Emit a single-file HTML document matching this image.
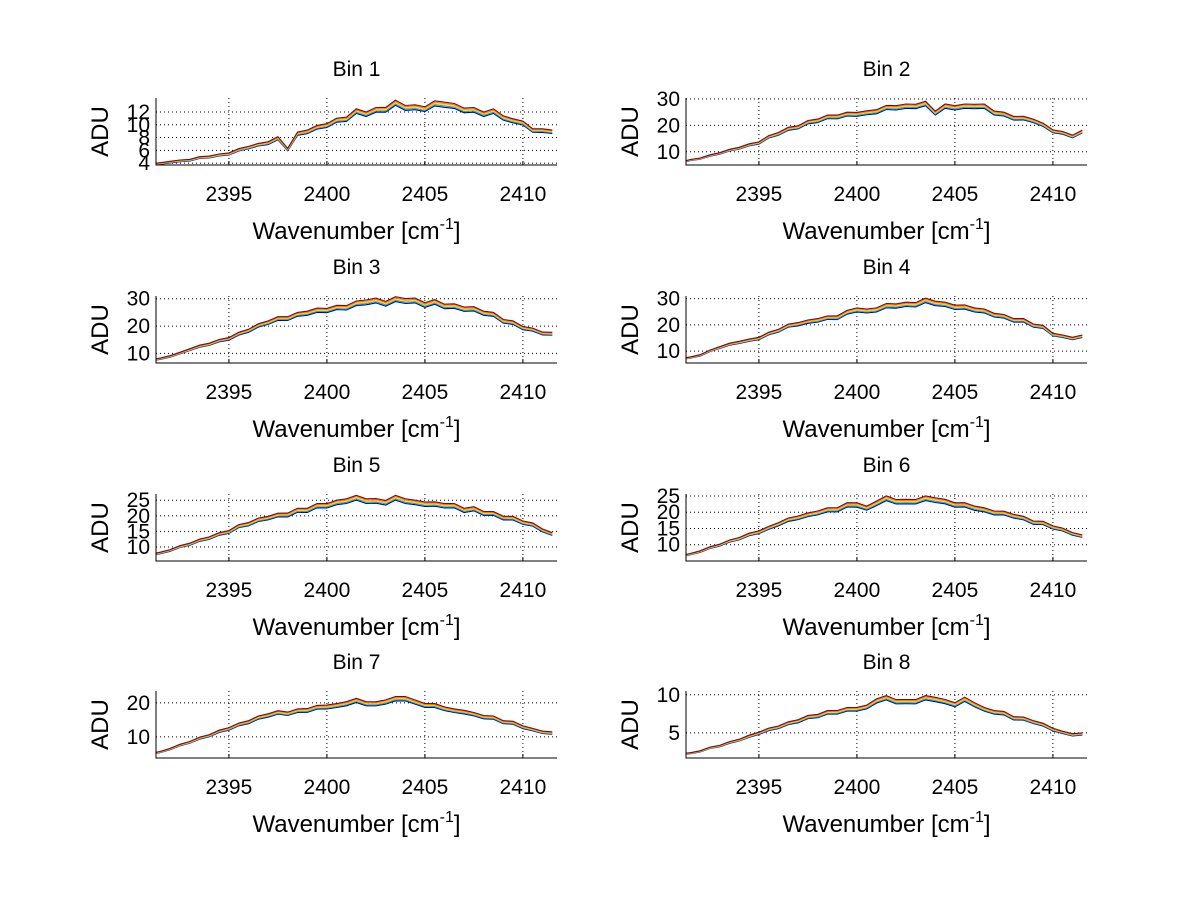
<!DOCTYPE html>
<html><head><meta charset="utf-8"><style>
html,body{margin:0;padding:0;background:#fff;}
svg{display:block;font-family:"Liberation Sans",Arial,sans-serif;}
</style></head><body>
<svg id="fig" width="1200" height="901" viewBox="0 0 1200 901" xmlns="http://www.w3.org/2000/svg"></svg>
<script>
const xTicks = [2395, 2400, 2405, 2410];
const xStart = 2391.0, xStep = 0.5;
const seriesColors = ["#0000a0", "#00b0ff", "#f0e000", "#ff8000", "#900000"];
const seriesOffsets = [-0.03, -0.015, 0, 0.015, 0.03];
const binTitles = ["Bin 1","Bin 2","Bin 3","Bin 4","Bin 5","Bin 6","Bin 7","Bin 8"];
const yDomains = [[3.7,14.2],[5,30.4],[6.5,31],[5.5,31],[5.5,27],[5,25.6],[3.8,23.5],[1.7,10.5]];
const yTicks = [[4,6,8,10,12],[10,20,30],[10,20,30],[10,20,30],[10,15,20,25],[10,15,20,25],[10,20],[5,10]];
const bin1 = [3.8,3.9,4.2,4.3,4.5,4.8,5.0,5.2,5.5,6.0,6.5,6.8,7.2,7.8,6.2,8.5,9.0,9.5,10.0,10.6,11.0,12.0,11.8,12.2,12.5,13.3,12.8,12.6,12.6,13.2,13.3,12.8,12.4,12.2,11.8,12.0,11.2,10.5,10.4,9.0,9.2,8.8];
const bin2 = [6,6.8,7.5,8.5,9.5,10.5,11.5,12.5,13.5,15.5,17,18.5,19.5,21,22,23,23.5,24,24.5,24.5,25.5,26.5,27,27,27.5,28,25,27,27,27,27.5,27,25,24,23,22.5,22,20,18,17,16,17.5];
const bin3 = [7.5,8,9,10,11.5,12.5,13.5,14.5,15.5,17,18.5,20,21.5,22.5,23,24,25,25.5,26,26.5,27,28,29,29,28.5,29.5,29.5,29,28,28.5,27.5,27,26.5,26,25,24,22,21,19.5,18.5,17.5,17];
const bin4 = [7,7.5,8.5,10,11.5,12.5,13.5,14,15,16.5,18,19.5,20.5,21,22,22.5,23,24.5,26,25,26,27,27.5,27.5,28,29,28.5,27.5,27,26.5,26,25,24,23,22,21.5,20,19,16.5,15.5,15,15.5];
const bin5 = [7.5,8,9,10,11,12,13,14,15,16.5,17.5,18.5,19.5,20,20.5,21.5,22,23,23.5,24,25,25.5,25,24.5,24.5,25.5,25,24,24,23.5,23.5,23,22,22,21,20.5,19.5,19,18,17,15.5,14];
const bin6 = [6.5,7,8,9,10,11,12,13,14,15,16.5,17.5,18.5,19,20,20.5,21,22,22.5,21,23,24,23.5,23,23.5,24,24,23,22.5,22,21.5,20.5,20,19.5,19,18,17,16.5,15.5,14.5,13.5,12.5];
const bin7 = [5,5.5,6.5,7.5,8.5,9.5,10.5,11.5,12.5,13.5,14.5,15.5,16.5,17,17,17.5,18,18.5,19,19,20,20.5,20,19.5,20.5,21,21.5,20,19.5,19,18.5,17.5,17.5,16.5,16,15.5,14.5,14,13,12,11.5,11];
const bin8 = [2.2,2.3,2.6,3,3.3,3.7,4.1,4.5,5,5.4,5.8,6.2,6.6,7,7.3,7.6,7.8,8,8.2,8.3,9.3,9.5,9.2,9,9.2,9.5,9.5,9,8.8,9.3,8.8,8,7.8,7.5,7,6.8,6.5,6,5.5,5,4.8,4.8];
const binValues = [bin1,bin2,bin3,bin4,bin5,bin6,bin7,bin8];

const NS = "http://www.w3.org/2000/svg";
const svg = document.getElementById("fig");
const colX = [156, 686], rowY = [98, 296, 494, 691], W = 401, H = 67;
const xMin = 2391.28, xMax = 2411.74;
function mk(tag, attrs, parent){const e=document.createElementNS(NS,tag);for(const k in attrs)e.setAttribute(k,attrs[k]);(parent||svg).appendChild(e);return e;}

binValues.forEach((vals, i) => {
  const x0 = colX[i % 2], y0 = rowY[Math.floor(i / 2)];
  const [yMin, yMax] = yDomains[i];
  const sx = v => x0 + (v - xMin) / (xMax - xMin) * W;
  const sy = v => y0 + H - (v - yMin) / (yMax - yMin) * H;
  const g = mk("g", {});
  
  
  mk("defs", {}, g).innerHTML = `<clipPath id="c${i}"><rect x="${x0}" y="${y0}" width="${W}" height="${H}"/></clipPath>`;
  xTicks.forEach(t => {
    const l = mk("line", {x1:sx(t),x2:sx(t),y1:y0,y2:y0+H,stroke:"#000","stroke-width":1,"stroke-dasharray":"1,3"}, g);
    
    
    const tk = mk("line", {x1:sx(t),x2:sx(t),y1:y0+H-4,y2:y0+H,stroke:"#000","stroke-width":1}, g);
    
    
    const tl = mk("text", {x:sx(t),y:y0+H+36,"font-size":21,"text-anchor":"middle"}, g);
    tl.textContent = t;
    
    
  });
  yTicks[i].forEach(t => {
    const l = mk("line", {x1:x0,x2:x0+W,y1:sy(t),y2:sy(t),stroke:"#000","stroke-width":1,"stroke-dasharray":"1,3"}, g);
    
    
    const tl = mk("text", {x:x0-6,y:sy(t)+7,"font-size":21,"text-anchor":"end"}, g);
    tl.textContent = t;
    
    
  });
  const lg = mk("g", {"clip-path":`url(#c${i})`}, g);
  seriesOffsets.forEach((off, s) => {
    const pts = vals.map((v, k) => {
      const jig = (k % 2 ? 0.012 : -0.012) * v;
      return `${sx(xStart + k * xStep).toFixed(1)},${sy(v * (1 + off) + jig).toFixed(1)}`;
    }).join(" ");
    const p = mk("polyline", {points:pts,fill:"none",stroke:seriesColors[s],"stroke-width":1.1}, lg);
    
    
  });
  const ax = mk("path", {d:`M${x0},${y0} V${y0+H} H${x0+W}`,fill:"none",stroke:"#000","stroke-width":1}, g);
  
  
  const tt = mk("text", {x:x0+W/2,y:y0-22,"font-size":21,"text-anchor":"middle"}, g);
  tt.textContent = binTitles[i];
  
  
  const yl = mk("text", {x:0,y:0,"font-size":24,"text-anchor":"middle",transform:`translate(${x0-48},${y0+H/2}) rotate(-90)`}, g);
  yl.textContent = "ADU";
  
  
  const xl = mk("text", {x:x0+W/2,y:y0+H+74,"font-size":24,"text-anchor":"middle"}, g);
  xl.innerHTML = 'Wavenumber [cm<tspan dy="-10" font-size="16">-1</tspan><tspan dy="10">]</tspan>';
  
  
});
</script>
</body></html>
